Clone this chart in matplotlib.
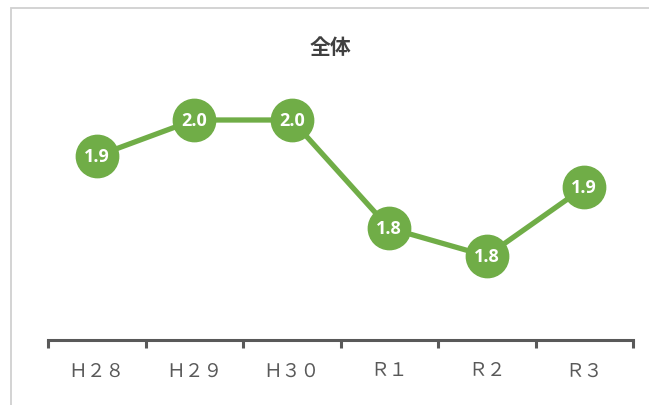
import matplotlib
matplotlib.use("Agg")
import matplotlib.pyplot as plt
from matplotlib.patches import Rectangle
import numpy as np

categories = ["Ｈ２８", "Ｈ２９", "Ｈ３０", "Ｒ１", "Ｒ２", "Ｒ３"]
values = [1.927, 1.98, 1.98, 1.821, 1.78, 1.881]
labels = ["1.9", "2.0", "2.0", "1.8", "1.8", "1.9"]
title = "全体"

plt.rcParams['font.family'] = ['Noto Sans CJK JP', 'DejaVu Sans']

W, H = 649, 406
fig = plt.figure(figsize=(W / 100, H / 100), dpi=100)
fig.patch.set_facecolor("white")

# outer chart border (light gray)
fig.patches.append(Rectangle((11 / W, -0.1), 1.2, (H - 9) / H + 0.1,
                             transform=fig.transFigure, fill=False,
                             edgecolor="#d0d0d0", linewidth=1.3))

ax_left, ax_right = 48 / W, 633 / W
ax_bottom = (H - 341) / H
ax_top = (H - 60) / H
ax = fig.add_axes([ax_left, ax_bottom, ax_right - ax_left, ax_top - ax_bottom])

green = "#70AD47"
x = np.arange(len(categories))
ax.plot(x, values, color=green, linewidth=3.8, marker="o", markersize=30.5,
        markerfacecolor=green, markeredgecolor=green, solid_capstyle="round", zorder=3)
for xi, v, lab in zip(x, values, labels):
    ax.text(xi, v, lab, ha="center", va="center", color="white",
            fontsize=13, fontweight="bold", family=["Open Sans", "DejaVu Sans"], zorder=4)

s = 680.0
ymin = values[1] - (341 - 121) / s
ymax = values[1] + (121 - 60) / s
ax.set_ylim(ymin, ymax)
ax.set_xlim(-0.5, len(categories) - 0.5)

for sp in ["top", "right", "left"]:
    ax.spines[sp].set_visible(False)
ax.spines["bottom"].set_color("#595959")
ax.spines["bottom"].set_linewidth(2.2)
ax.set_yticks([])

ax.set_xticks(x)
ax.set_xticklabels(categories, color="#595959", fontsize=13.5)
ax.tick_params(axis="x", which="major", length=0, pad=14)
ax.set_xticks(np.arange(-0.5, len(categories)), minor=True)
ax.tick_params(axis="x", which="minor", length=6, width=2.2, color="#595959")

fig.text(330 / W, (H - 47) / H, title, ha="center", va="center",
         fontsize=15, fontweight="bold", color="#404040")

fig.savefig("out.png", dpi=100)
